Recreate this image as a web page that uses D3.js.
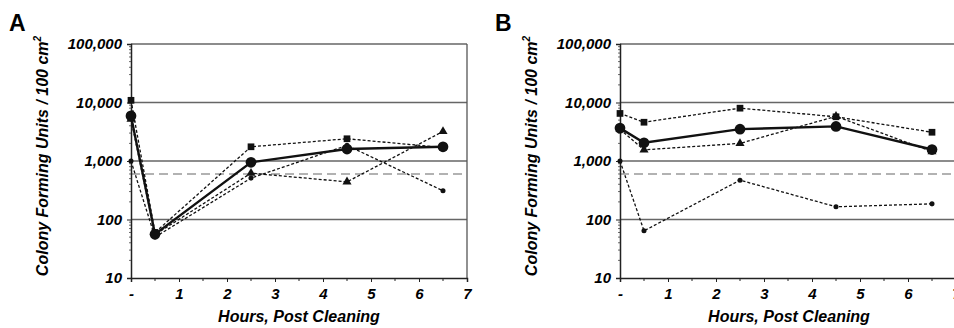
<!DOCTYPE html>
<html>
<head>
<meta charset="utf-8">
<script src="https://cdn.jsdelivr.net/npm/d3@7"></script>
<style>
  body { margin: 0; background: #fff; }
  text { font-family: "Liberation Sans", Arial, sans-serif; font-weight: bold; font-style: italic; fill: #000; }
</style>
</head>
<body>
<div id="chart"></div>
<script>
// hours after cleaning (0 = before cleaning, labelled "-")
const hours = [0, 0.5, 2.5, 4.5, 6.5];
const xTickLabels = ["-", "1", "2", "3", "4", "5", "6", "7"];
const yTicks = [10, 100, 1000, 10000, 100000];
const threshold = 600;

// panel A
const aMean     = [5900, 56, 950, 1600, 1750];
const aSquare   = [10900, 60, 1750, 2400, 1700];
const aTriangle = [5200, 55, 620, 440, 3200];
const aDiamond  = [1000, 50, 510, 1850, 310];

// panel B
const bMean     = [3650, 2050, 3500, 3900, 1570];
const bSquare   = [6500, 4600, 8000, 5700, 3100];
const bTriangle = [3500, 1550, 2000, 5800, 1450];
const bDiamond  = [1000, 64, 470, 165, 185];

const W = 954, H = 328;
const svg = d3.select("#chart").append("svg")
  .attr("width", W).attr("height", H);

const fmt = d3.format(",");

function panel(opts) {
  const left = opts.left, top = 44, width = 336, height = 234;
  const g = svg.append("g").attr("transform", "translate(" + left + "," + top + ")");

  const x = d3.scaleLinear().domain([0, 7]).range([0, width]);
  const y = d3.scaleLog().domain([10, 100000]).range([height, 0]);

  // gridlines
  g.selectAll(".grid").data(yTicks.slice(1)).enter().append("line")
    .attr("x1", 0).attr("x2", width)
    .attr("y1", d => y(d)).attr("y2", d => y(d))
    .attr("stroke", "#666").attr("stroke-width", 1.3);

  // right border
  g.append("line").attr("x1", width).attr("x2", width).attr("y1", 0).attr("y2", height)
    .attr("stroke", "#555").attr("stroke-width", 1.3);

  // threshold
  g.append("line").attr("x1", 0).attr("x2", width)
    .attr("y1", y(threshold)).attr("y2", y(threshold))
    .attr("stroke", "#999").attr("stroke-width", 1.4).attr("stroke-dasharray", "9,5");

  // y axis
  const minor = [];
  for (let e = 1; e < 5; e++) for (let m = 2; m < 10; m++) minor.push(m * Math.pow(10, e));
  g.selectAll(".minor").data(minor).enter().append("line")
    .attr("x1", -2).attr("x2", 0).attr("y1", d => y(d)).attr("y2", d => y(d))
    .attr("stroke", "#444").attr("stroke-width", 0.8);
  const yAxis = d3.axisLeft(y).tickValues(yTicks).tickFormat(fmt).tickSize(4).tickPadding(5);
  const ya = g.append("g").call(yAxis);
  ya.select(".domain").attr("stroke", "#222").attr("stroke-width", 1.5);
  ya.selectAll(".tick line").attr("stroke", "#222");
  ya.selectAll("text").attr("font-size", 15).attr("fill", "#000");

  // x axis
  const xAxis = d3.axisBottom(x).tickValues(d3.range(0, 8)).tickFormat((d, i) => xTickLabels[i])
    .tickSize(4).tickPadding(6);
  const xa = g.append("g").attr("transform", "translate(0," + height + ")").call(xAxis);
  xa.select(".domain").attr("stroke", "#222").attr("stroke-width", 1.5);
  xa.selectAll(".tick line").attr("stroke", "#222");
  xa.selectAll("text").attr("font-size", 15).attr("fill", "#000");
  g.selectAll(".halftick").data(d3.range(0.5, 7, 1)).enter().append("line")
    .attr("x1", d => x(d)).attr("x2", d => x(d)).attr("y1", height).attr("y2", height + 3)
    .attr("stroke", "#222");

  // series
  const line = d3.line().x((d, i) => x(hours[i])).y(d => y(d));
  const series = [
    { v: opts.square, sym: d3.symbolSquare, size: 45, solid: false },
    { v: opts.triangle, sym: d3.symbolTriangle, size: 36, solid: false },
    { v: opts.diamond, sym: d3.symbolCircle, size: 20, solid: false },
    { v: opts.mean, sym: d3.symbolCircle, size: 90, solid: true }
  ];
  series.forEach(s => {
    g.append("path").datum(s.v).attr("d", line).attr("fill", "none")
      .attr("stroke", "#111")
      .attr("stroke-width", s.solid ? 2.4 : 1.3)
      .attr("stroke-dasharray", s.solid ? null : "3,2");
    g.selectAll(null).data(s.v).enter().append("path")
      .attr("d", d3.symbol().type(s.sym).size(s.size))
      .attr("transform", (d, i) => "translate(" + x(hours[i]) + "," + y(d) + ")")
      .attr("fill", "#111");
  });

  // titles
  svg.append("text").attr("x", opts.letterX).attr("y", 31)
    .attr("font-size", 23).style("font-style", "normal").text(opts.letter);
  svg.append("text")
    .attr("transform", "translate(" + (opts.left - 83) + "," + 156 + ") rotate(-90)")
    .attr("text-anchor", "middle").attr("font-size", 16)
    .html("Colony Forming Units / 100 cm<tspan dy='-7' font-size='10'>2</tspan>");
  svg.append("text").attr("x", opts.left + opts.titleDx).attr("y", 322)
    .attr("text-anchor", "middle").attr("font-size", 16).text("Hours, Post Cleaning");
}

panel({ left: 131, letter: "A", letterX: 9, titleDx: 168,
  mean: aMean, square: aSquare, triangle: aTriangle, diamond: aDiamond });
panel({ left: 620, letter: "B", letterX: 495, titleDx: 169,
  mean: bMean, square: bSquare, triangle: bTriangle, diamond: bDiamond });
</script>
</body>
</html>
